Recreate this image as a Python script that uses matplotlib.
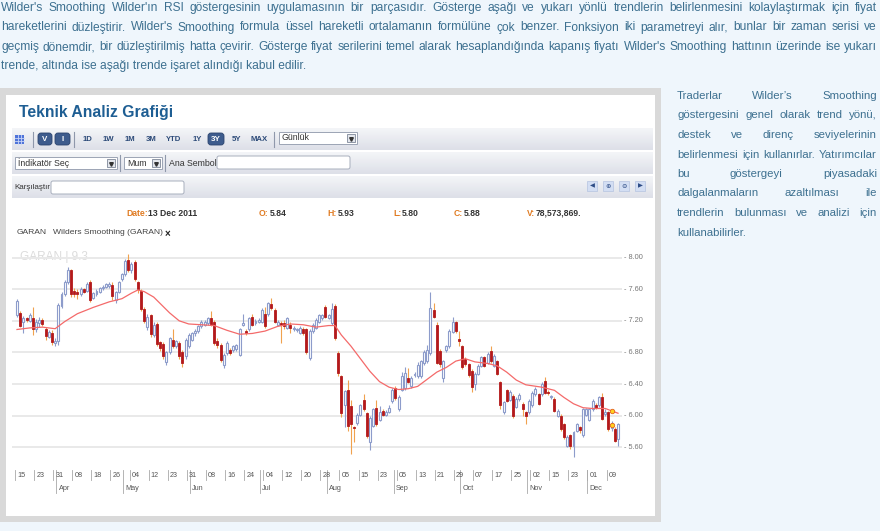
import numpy as np
import matplotlib
matplotlib.use("Agg")
import matplotlib.pyplot as plt
import matplotlib.transforms as mtransforms
from matplotlib.patches import Rectangle, FancyBboxPatch
from matplotlib.colors import LinearSegmentedColormap

W, H = 880, 531

# ---- GARAN daily candles (Mar 15 - Dec 13 2011) ----
opens = [7.27, 7.30, 7.19, 7.23, 7.20, 7.24, 7.10, 7.17, 7.21, 7.10,
         7.00, 7.05, 6.92, 6.95, 7.39, 7.54, 7.69, 7.84, 7.58, 7.56,
         7.54, 7.60, 7.58, 7.69, 7.49, 7.54, 7.56, 7.61, 7.63, 7.64,
         7.65, 7.46, 7.56, 7.73, 7.79, 7.97, 7.84, 7.95, 7.69, 7.58,
         7.35, 7.12, 7.27, 7.02, 7.16, 6.93, 6.91, 6.68, 6.80, 6.96,
         6.88, 6.92, 6.81, 6.75, 6.88, 6.96, 7.04, 7.07, 7.13, 7.15,
         7.17, 7.23, 7.19, 6.94, 6.90, 6.64, 6.79, 6.83, 6.83, 6.84,
         6.77, 7.15, 7.07, 7.09, 7.25, 7.17, 7.19, 7.19, 7.28, 7.28,
         7.41, 7.34, 7.15, 7.17, 7.17, 7.11, 7.15, 7.09, 7.08, 7.05,
         7.10, 7.09, 6.73, 7.07, 7.11, 7.19, 7.23, 7.38, 7.24, 7.17,
         7.39, 6.79, 6.50, 6.14, 6.33, 6.12, 5.86, 5.91, 6.01, 6.20,
         6.03, 5.67, 5.87, 6.10, 5.95, 6.06, 6.01, 6.05, 6.18, 6.35,
         6.08, 6.33, 6.35, 6.48, 6.37, 6.51, 6.50, 6.50, 6.66, 6.69,
         6.79, 7.34, 7.15, 6.82, 6.48, 6.83, 6.88, 7.06, 7.18, 6.97,
         6.88, 6.72, 6.65, 6.57, 6.40, 6.53, 6.63, 6.74, 6.67, 6.82,
         6.63, 6.69, 6.42, 6.04, 6.32, 6.20, 6.25, 6.11, 6.21, 6.15,
         6.04, 6.04, 6.13, 6.27, 6.27, 6.27, 6.44, 6.30, 6.23, 6.21,
         6.00, 6.00, 5.89, 5.62, 5.75, 5.62, 5.81, 5.85, 5.75, 6.01,
         5.95, 6.08, 6.13, 6.13, 6.23, 6.02, 6.04, 5.84, 5.83, 5.71]
highs = [7.47, 7.33, 7.26, 7.25, 7.30, 7.38, 7.22, 7.25, 7.23, 7.12,
         7.08, 7.08, 6.98, 7.42, 7.56, 7.72, 7.88, 7.86, 7.62, 7.60,
         7.63, 7.62, 7.69, 7.72, 7.57, 7.60, 7.63, 7.65, 7.68, 7.69,
         7.69, 7.58, 7.71, 7.81, 7.98, 8.05, 7.95, 7.97, 7.71, 7.60,
         7.38, 7.28, 7.29, 7.18, 7.18, 6.95, 6.93, 6.82, 7.00, 7.10,
         6.96, 6.94, 6.83, 6.98, 7.04, 7.06, 7.09, 7.15, 7.21, 7.21,
         7.25, 7.33, 7.21, 6.98, 6.92, 6.79, 6.94, 6.85, 6.90, 6.91,
         7.11, 7.28, 7.09, 7.25, 7.28, 7.22, 7.23, 7.36, 7.38, 7.44,
         7.49, 7.36, 7.21, 7.20, 7.21, 7.25, 7.18, 7.13, 7.11, 7.13,
         7.12, 7.11, 7.09, 7.17, 7.23, 7.29, 7.29, 7.40, 7.29, 7.43,
         7.41, 6.82, 6.52, 6.33, 6.45, 6.20, 5.87, 6.03, 6.15, 6.27,
         6.05, 5.99, 6.10, 6.20, 6.12, 6.08, 6.07, 6.13, 6.35, 6.37,
         6.26, 6.55, 6.62, 6.60, 6.50, 6.55, 6.68, 6.71, 6.83, 6.90,
         7.57, 7.42, 7.19, 6.84, 6.71, 6.90, 7.09, 7.25, 7.20, 7.07,
         6.90, 6.74, 6.67, 6.59, 6.55, 6.65, 6.76, 6.76, 6.80, 6.88,
         6.78, 6.71, 6.44, 6.19, 6.34, 6.32, 6.27, 6.23, 6.28, 6.17,
         6.06, 6.21, 6.31, 6.36, 6.29, 6.42, 6.49, 6.32, 6.26, 6.23,
         6.08, 6.02, 5.91, 5.75, 5.77, 5.81, 5.91, 5.87, 6.10, 6.10,
         6.10, 6.21, 6.16, 6.25, 6.28, 6.08, 6.06, 5.93, 5.85, 5.91]
lows = [7.25, 7.12, 7.05, 7.18, 7.18, 7.02, 7.06, 7.12, 7.14, 6.96,
        6.98, 6.89, 6.88, 6.90, 7.36, 7.52, 7.67, 7.50, 7.50, 7.48,
        7.52, 7.55, 7.56, 7.44, 7.47, 7.52, 7.55, 7.59, 7.61, 7.62,
        7.46, 7.43, 7.55, 7.71, 7.77, 7.82, 7.80, 7.70, 7.55, 7.32,
        7.17, 7.08, 7.00, 7.00, 6.88, 6.82, 6.72, 6.64, 6.78, 6.86,
        6.85, 6.72, 6.62, 6.72, 6.86, 6.94, 7.01, 7.05, 7.11, 7.13,
        7.15, 7.13, 6.90, 6.86, 6.68, 6.60, 6.77, 6.77, 6.81, 6.82,
        6.75, 7.14, 7.02, 7.07, 7.13, 7.15, 7.17, 7.17, 7.11, 7.26,
        7.34, 7.17, 7.13, 6.92, 7.10, 7.09, 7.05, 7.07, 7.06, 7.03,
        7.02, 6.78, 6.70, 7.05, 7.09, 7.17, 7.21, 7.23, 7.22, 7.15,
        6.96, 6.50, 5.98, 5.85, 5.80, 5.51, 5.66, 5.88, 5.99, 6.06,
        5.72, 5.57, 5.85, 5.87, 5.93, 5.99, 5.99, 6.03, 6.16, 6.20,
        6.06, 6.31, 6.33, 6.41, 6.35, 6.49, 6.48, 6.48, 6.64, 6.67,
        6.77, 7.23, 6.65, 6.62, 6.43, 6.81, 6.86, 7.04, 7.05, 6.88,
        6.59, 6.63, 6.49, 6.30, 6.33, 6.51, 6.61, 6.61, 6.65, 6.67,
        6.61, 6.51, 6.08, 6.02, 6.17, 6.18, 5.97, 6.09, 6.19, 6.00,
        5.89, 6.02, 6.11, 6.25, 6.13, 6.25, 6.27, 6.26, 6.21, 6.04,
        5.98, 5.81, 5.70, 5.60, 5.58, 5.47, 5.79, 5.78, 5.73, 5.99,
        5.93, 6.06, 6.08, 6.11, 5.94, 6.00, 5.81, 5.80, 5.66, 5.62]
closes = [7.45, 7.14, 7.24, 7.21, 7.27, 7.10, 7.18, 7.21, 7.16, 7.01,
          7.06, 6.93, 6.95, 7.40, 7.54, 7.69, 7.84, 7.54, 7.54, 7.54,
          7.60, 7.57, 7.67, 7.46, 7.55, 7.58, 7.61, 7.63, 7.67, 7.67,
          7.52, 7.56, 7.69, 7.79, 7.96, 7.84, 7.92, 7.73, 7.60, 7.35,
          7.20, 7.25, 7.03, 7.15, 6.91, 6.86, 6.76, 6.80, 6.98, 6.88,
          6.94, 6.75, 6.66, 6.96, 7.02, 7.04, 7.07, 7.13, 7.19, 7.19,
          7.23, 7.15, 6.92, 6.90, 6.71, 6.77, 6.92, 6.79, 6.88, 6.89,
          7.09, 7.17, 7.04, 7.23, 7.15, 7.20, 7.21, 7.34, 7.13, 7.42,
          7.36, 7.19, 7.19, 7.15, 7.13, 7.23, 7.11, 7.11, 7.09, 7.11,
          7.04, 6.81, 7.07, 7.15, 7.21, 7.27, 7.27, 7.25, 7.27, 7.35,
          6.98, 6.54, 6.03, 6.31, 5.87, 5.89, 5.84, 6.01, 6.13, 6.08,
          5.74, 5.97, 6.08, 5.89, 6.04, 6.01, 6.05, 6.10, 6.33, 6.22,
          6.24, 6.50, 6.54, 6.43, 6.48, 6.53, 6.64, 6.69, 6.81, 6.83,
          7.36, 7.25, 6.67, 6.65, 6.69, 6.88, 7.07, 7.19, 7.07, 6.95,
          6.61, 6.65, 6.51, 6.36, 6.53, 6.63, 6.74, 6.63, 6.78, 6.69,
          6.76, 6.53, 6.13, 6.17, 6.19, 6.30, 5.99, 6.21, 6.26, 6.08,
          6.00, 6.19, 6.29, 6.34, 6.15, 6.40, 6.29, 6.28, 6.25, 6.06,
          6.06, 5.83, 5.73, 5.73, 5.62, 5.79, 5.89, 5.82, 6.08, 6.08,
          6.08, 6.19, 6.10, 6.23, 5.96, 6.05, 5.83, 5.88, 5.68, 5.89]

# Wilder's smoothing line, sampled along the curve (candle index, value)
smooth_idx = [0, 4, 8, 12, 15, 19, 24, 29, 33, 36, 38, 40, 43, 46, 48, 51, 54,
              58, 62, 66, 70, 74, 78, 82, 86, 90, 94, 98, 100, 102, 105, 108,
              111, 114, 117, 120, 123, 126, 129, 132, 135, 138, 141, 144, 148,
              151, 154, 157, 160, 165, 169, 172, 175, 178, 181, 185, 189]
smooth_val = [7.09, 7.11, 7.12, 7.10, 7.19, 7.29, 7.37, 7.44, 7.48, 7.55, 7.59,
              7.57, 7.50, 7.38, 7.30, 7.20, 7.16, 7.15, 7.14, 7.08, 7.03, 7.04,
              7.07, 7.13, 7.16, 7.15, 7.12, 7.14, 7.14, 7.02, 6.88, 6.72, 6.56,
              6.43, 6.36, 6.33, 6.34, 6.37, 6.46, 6.55, 6.61, 6.69, 6.72, 6.68,
              6.66, 6.63, 6.55, 6.45, 6.39, 6.36, 6.32, 6.23, 6.15, 6.10, 6.09,
              6.09, 6.03]

tick_labels = ['15', '23', '31', '08', '18', '26', '04', '12', '23', '31', '08',
               '16', '24', '04', '12', '20', '28', '05', '15', '23', '05', '13',
               '21', '29', '07', '17', '25', '02', '15', '23', '01', '09']
tick_idx = list(range(0, 187, 6))
month_labels = ['Apr', 'May', 'Jun', 'Jul', 'Aug', 'Sep', 'Oct', 'Nov', 'Dec']
month_idx = [13, 34, 55, 77, 98, 119, 140, 161, 180]
price_levels = [5.6, 6.0, 6.4, 6.8, 7.2, 7.6, 8.0]

para_lines = [
    "Wilder's Smoothing Wilder'ın RSI göstergesinin uygulamasının bir parçasıdır. Gösterge aşağı ve yukarı yönlü trendlerin belirlenmesini kolaylaştırmak için fiyat",
    "hareketlerini düzleştirir. Wilder's Smoothing formula üssel hareketli ortalamanın formülüne çok benzer. Fonksiyon iki parametreyi alır, bunlar bir zaman serisi ve",
    "geçmiş dönemdir, bir düzleştirilmiş hatta çevirir. Gösterge fiyat serilerini temel alarak hesaplandığında kapanış fiyatı Wilder's Smoothing hattının üzerinde ise yukarı",
    "trende, altında ise aşağı trende işaret alındığı kabul edilir.",
]
side_lines = [
    "Traderlar Wilder’s Smoothing",
    "göstergesini genel olarak trend yönü,",
    "destek ve direnç seviyelerinin",
    "belirlenmesi için kullanırlar. Yatırımcılar",
    "bu göstergeyi piyasadaki",
    "dalgalanmaların azaltılması ile",
    "trendlerin bulunması ve analizi için",
    "kullanabilirler.",
]

PAGE_BG = '#EFF6FC'
TEXT_C = '#3D7090'
FONT = 'Liberation Sans'
UP_C = '#8D9CCB'
DOWN_C = '#B3191B'
WICK_DOWN = '#F0A24E'

fig = plt.figure(figsize=(W / 100, H / 100), dpi=100, facecolor=PAGE_BG)
renderer = fig.canvas.get_renderer()

# page axes in pixel coordinates (y down)
page = fig.add_axes([0, 0, 1, 1])
page.set_axis_off()


def box(x0, y0, x1, y1, fc, ec='none', lw=0.0, z=1, r=0):
    if r:
        p = FancyBboxPatch((x0, y0), x1 - x0, y1 - y0,
                           boxstyle='round,pad=0,rounding_size=%g' % r,
                           fc=fc, ec=ec, lw=lw, zorder=z)
    else:
        p = Rectangle((x0, y0), x1 - x0, y1 - y0, fc=fc, ec=ec, lw=lw, zorder=z)
    page.add_patch(p)


def txt(x, y, s, size=6.5, color='#333333', weight='normal', ha='left', family=FONT, z=5):
    return page.text(x, y, s, fontsize=size, color=color, fontweight=weight,
                     ha=ha, va='center', family=family, zorder=z)


def width_of(s, size):
    t = page.text(0, 0, s, fontsize=size, family=FONT)
    w = t.get_window_extent(renderer=renderer).width
    t.remove()
    return w


def fit_size(lines, target, base):
    return base * min(1.0, min(target / width_of(l, base) for l in lines) * 0.985)


def justify(line, x0, x1, y, size):
    words = line.split(' ')
    ws = [width_of(w, size) for w in words]
    gap = (x1 - x0 - sum(ws)) / max(len(words) - 1, 1)
    xx = x0
    for w, wd in zip(words, ws):
        txt(xx, y, w, size=size, color=TEXT_C)
        xx += wd + gap


# ---- paragraph text ----
para_size = fit_size(para_lines[:3], 876, 9.2)
for k, line in enumerate(para_lines):
    y = 8 + 19.5 * k
    if k < 3:
        justify(line, 1, 877, y, para_size)
    else:
        txt(1, y, line, size=para_size, color=TEXT_C)

side_size = min(para_size, fit_size(side_lines[:7], 200, 9.2))
for k, line in enumerate(side_lines):
    y = 96 + 19.5 * k
    if k < 7:
        justify(line, 677, 877, y, side_size)
    else:
        txt(677, y, line, size=side_size, color=TEXT_C)

# ---- widget frame ----
box(0, 88, 661, 522, '#D9D9D9', z=0)
box(6, 95, 655, 516, 'white', z=0.5)
txt(19, 113, 'Teknik Analiz Grafiği', size=11.3, color='#1E5E93', weight='bold')

grad_cmap = LinearSegmentedColormap.from_list('bar', ['#F4F5F8', '#DDE0E8'])
for y0, y1 in [(128, 150), (152, 174), (176, 198)]:
    page.imshow(np.linspace(0, 1, 24)[:, None], extent=(12, 653, y1, y0),
                cmap=grad_cmap, aspect='auto', zorder=1)

# row 1
box(15, 135, 24, 144, '#4F74D9', z=2)
for g in (18, 21):
    page.plot([g, g], [135, 144], color='#C9D6F7', lw=0.6, zorder=3)
    page.plot([15, 24], [g + 120, g + 120], color='#C9D6F7', lw=0.6, zorder=3)
for sx, (ya, yb) in [(33, (132, 147)), (74, (132, 147)), (274, (132, 147)),
                     (120, (155, 171)), (165, (155, 171))]:
    page.plot([sx, sx], [ya, yb], color='#8F98AB', lw=0.8, zorder=3)
for x0, x1, lab in [(38, 52, 'V'), (55, 70, 'I'), (208, 224, '3Y')]:
    box(x0, 133, x1, 145, '#3E5C8D', ec='#2B446E', lw=0.6, z=2, r=3)
    txt((x0 + x1) / 2, 139.3, lab, size=5.8, color='white', weight='bold', ha='center')
for xc, lab in [(87.5, '1D'), (108, '1W'), (130, '1M'), (151, '3M'), (174, 'YTD'),
                (197, '1Y'), (236, '5Y'), (259, 'MAX')]:
    txt(xc, 139.5, lab, size=5.6, color='#2C4A78', weight='bold', ha='center')


def dropdown(x0, x1, y0, y1, label):
    box(x0, y0, x1, y1, 'white', ec='#9CA4B4', lw=0.7, z=2)
    box(x1 - 10, y0 + 2, x1 - 2, y1 - 2, '#E3E6EC', ec='#7E8798', lw=0.6, z=3)
    page.plot([x1 - 6], [(y0 + y1) / 2 + 0.5], marker='v', ms=2.6, color='#333333', zorder=4)
    txt(x0 + 3, (y0 + y1) / 2, label, size=6.3, color='#333333')


dropdown(279, 357, 132, 144, 'Günlük')
dropdown(15, 117, 157, 169, 'İndikatör Seç')
dropdown(124, 162, 157, 169, 'Mum')
txt(169, 163, 'Ana Sembol', size=6.3, color='#333333')
box(217, 156, 350, 169, 'white', ec='#A8AFBD', lw=0.7, z=2, r=2)
txt(14, 187.5, 'Karşılaştır', size=5.8, color='#333333')
box(51, 181, 184, 194, 'white', ec='#A8AFBD', lw=0.7, z=2, r=2)
for x0, glyph in [(587, '◀'), (603, '⊕'), (619, '⊖'), (635, '▶')]:
    box(x0, 181, x0 + 10, 191, '#D3DEF3', ec='#B5C3E0', lw=0.5, z=2)
    txt(x0 + 5, 186.2, glyph, size=4.6, color='#2D4C86', ha='center', family='DejaVu Sans')

# info line
for xx, s, col in [(126, 'Date:', '#E07B22'), (148, '13 Dec 2011', '#333333'),
                   (259, 'O:', '#E07B22'), (270, '5.84', '#333333'),
                   (327, 'H:', '#E07B22'), (338, '5.93', '#333333'),
                   (393, 'L:', '#E07B22'), (402, '5.80', '#333333'),
                   (454, 'C:', '#E07B22'), (464, '5.88', '#333333'),
                   (527, 'V:', '#E07B22'), (536, '78,573,869.', '#333333')]:
    txt(xx, 213, s, size=6.2, color=col, weight='bold')

txt(17, 233, 'GARAN', size=6.1, color='#444444')
txt(53, 233, 'Wilders Smoothing (GARAN)', size=6.1, color='#444444')
txt(164.5, 233.5, '×', size=7, color='#222222', weight='bold')
txt(20, 257, 'GARAN | 9.3', size=8.5, color='#DCDCDC', z=2)

page.set_xlim(0, W)
page.set_ylim(H, 0)

# ---- candle chart ----
ax = fig.add_axes([12 / W, 1 - 463 / H, 610 / W, 212.5 / H], zorder=3)
ax.patch.set_alpha(0)
for s in ax.spines.values():
    s.set_visible(False)
ax.set_xticks([])
ax.set_yticks([])

o = np.array(opens)
hi = np.array(highs)
lo = np.array(lows)
c = np.array(closes)
x = np.arange(len(o))
up = c >= o

for p in price_levels:
    ax.axhline(p, color='#E9E9E9', lw=1.4, zorder=0)

ax.vlines(x[up], lo[up], hi[up], color=UP_C, lw=0.8, zorder=2)
ax.vlines(x[~up], lo[~up], hi[~up], color=WICK_DOWN, lw=0.8, zorder=2)
body_up = np.maximum(c[up] - o[up], 0.012)
body_dn = np.maximum(o[~up] - c[~up], 0.012)
ax.bar(x[up], body_up, bottom=o[up], width=0.62, facecolor='white',
       edgecolor=UP_C, lw=0.8, zorder=3)
ax.bar(x[~up], body_dn, bottom=c[~up], width=0.62, facecolor=DOWN_C,
       edgecolor=DOWN_C, lw=0.6, zorder=3)

ax.plot(smooth_idx, smooth_val, color='#F46A6A', lw=0.9, zorder=4)
hover = 187
ax.plot([hover, hover], [smooth_val[-2] - 0.03, closes[hover]], ls='none', marker='o',
        ms=3.2, mfc='#FFD21F', mec='#E2621B', mew=0.6, zorder=5)

ax.set_xlim(-1.57, 190.25)
ax.set_ylim(5.40, 8.09)

# right price labels
ty = mtransforms.blended_transform_factory(ax.transAxes, ax.transData)
for p in price_levels:
    ax.text(1.003, p, '- %.2f' % p, transform=ty, fontsize=5.3, color='#777777',
            va='center', ha='left', family=FONT, clip_on=False)

# date axis
tx = mtransforms.blended_transform_factory(ax.transData, ax.transAxes)


def ay(ypix):
    return (463 - ypix) / 212.5


for pos, lab in zip(tick_idx, tick_labels):
    ax.plot([pos - 0.6, pos - 0.6], [ay(470), ay(480)], transform=tx,
            color='#A8A8A8', lw=0.6, clip_on=False)
    ax.text(pos + 0.1, ay(475.5), lab, transform=tx, fontsize=5.2, color='#555555',
            va='center', ha='left', family=FONT, clip_on=False)
for pos, lab in zip(month_idx, month_labels):
    ax.plot([pos - 0.6, pos - 0.6], [ay(470), ay(493)], transform=tx,
            color='#A8A8A8', lw=0.6, clip_on=False)
    ax.text(pos + 0.1, ay(488), lab, transform=tx, fontsize=5.2, color='#555555',
            va='center', ha='left', family=FONT, clip_on=False)

fig.savefig('out.png', dpi=100, facecolor=PAGE_BG)
